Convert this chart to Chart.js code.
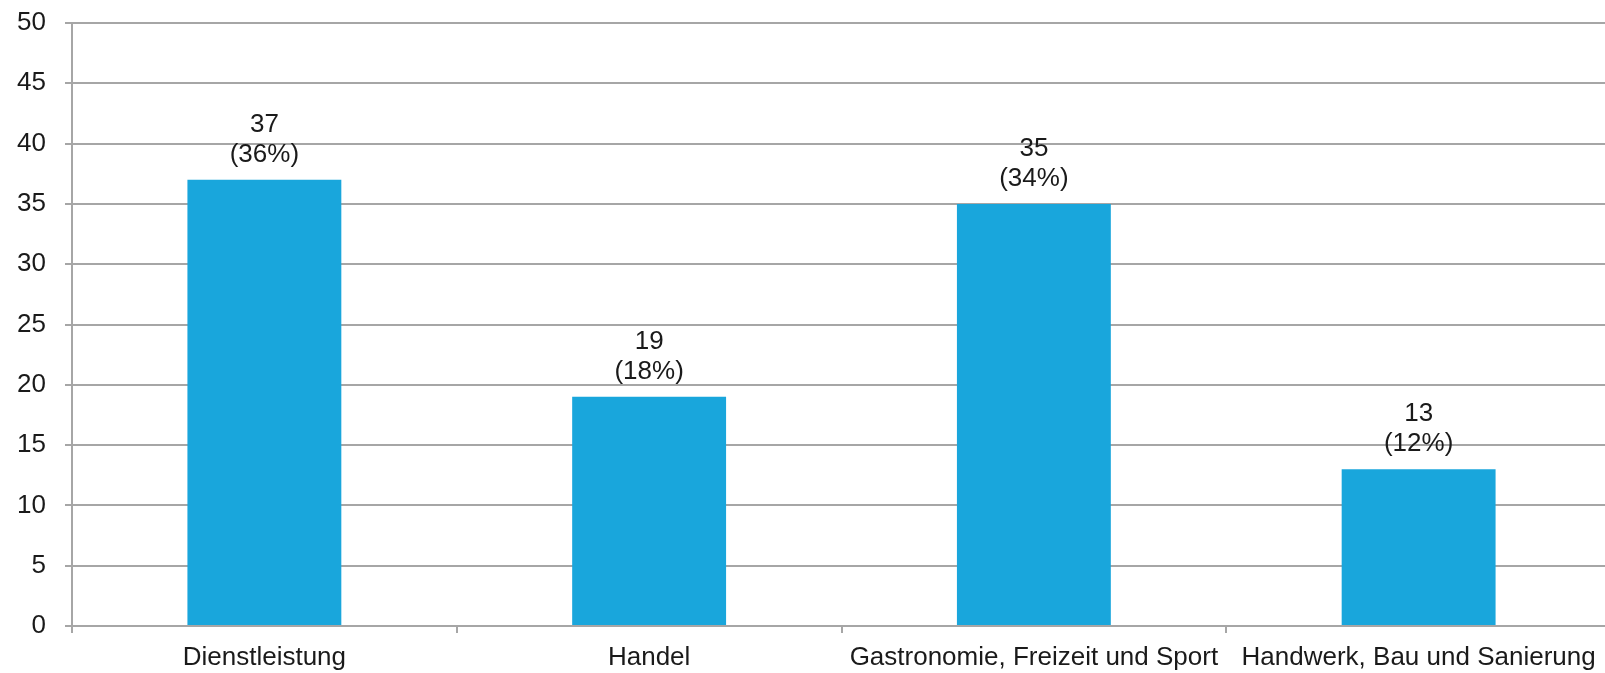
<!DOCTYPE html>
<html>
<head>
<meta charset="utf-8">
<script src="https://cdn.jsdelivr.net/npm/chart.js@4/dist/chart.umd.min.js"></script>
<style>
  html, body { margin: 0; padding: 0; background: #ffffff; overflow: hidden; }
  #wrap { width: 1605px; height: 673px; position: relative; overflow: hidden; }
  #c { display: block; }
</style>
</head>
<body>
<div id="wrap"><canvas id="c" width="1611" height="673"></canvas></div>
<script>
const categories = ["Dienstleistung", "Handel", "Gastronomie, Freizeit und Sport", "Handwerk, Bau und Sanierung"];
const counts = [37, 19, 35, 13];
const percentLabels = ["(36%)", "(18%)", "(34%)", "(12%)"];
const yTicks = [0, 5, 10, 15, 20, 25, 30, 35, 40, 45, 50];

const FONT = "'Liberation Sans', Arial, Helvetica, sans-serif";
const GRID = "#a6a6a6";
const TEXT = "#1a1a1a";
const FS = 26;

const labelPlugin = {
  id: "barLabels",
  afterDatasetsDraw(chart) {
    const ctx = chart.ctx;
    const meta = chart.getDatasetMeta(0);
    ctx.save();
    ctx.font = FS + "px " + FONT;
    ctx.fillStyle = TEXT;
    ctx.textAlign = "center";
    ctx.textBaseline = "alphabetic";
    meta.data.forEach((bar, i) => {
      ctx.fillText(String(counts[i]), bar.x, bar.y - 48);
      ctx.fillText(percentLabels[i], bar.x, bar.y - 18);
    });
    ctx.restore();
  }
};

new Chart(document.getElementById("c"), {
  type: "bar",
  data: {
    labels: categories,
    datasets: [{
      data: counts,
      backgroundColor: "#19a6dc",
      borderWidth: 0,
      categoryPercentage: 1.0,
      barPercentage: 0.4
    }]
  },
  options: {
    responsive: false,
    animation: false,
    events: [],
    layout: { padding: { top: 23, right: 0, bottom: 0, left: 0 } },
    plugins: { legend: { display: false }, tooltip: { enabled: false } },
    scales: {
      x: {
        afterFit(scale) {
          scale.height = 47;
          scale.paddingLeft = 0;
          scale.paddingRight = 0;
        },
        grid: {
          offset: true,
          drawOnChartArea: false,
          drawTicks: true,
          tickLength: 7,
          color: GRID,
          lineWidth: 2
        },
        border: { display: true, color: GRID, width: 2 },
        ticks: {
          autoSkip: false,
          maxRotation: 0,
          minRotation: 0,
          padding: 9,
          color: TEXT,
          font: { family: FONT, size: FS }
        }
      },
      y: {
        min: 0,
        max: 50,
        afterFit(scale) {
          scale.width = 72;
          scale.paddingTop = 0;
          scale.paddingBottom = 0;
        },
        afterBuildTicks(scale) { scale.ticks = yTicks.map(v => ({ value: v })); },
        grid: {
          color: GRID,
          lineWidth: 2,
          tickLength: 7
        },
        border: { display: true, color: GRID, width: 2 },
        ticks: {
          padding: 19,
          color: TEXT,
          font: { family: FONT, size: FS }
        }
      }
    }
  },
  plugins: [labelPlugin]
});
</script>
</body>
</html>
